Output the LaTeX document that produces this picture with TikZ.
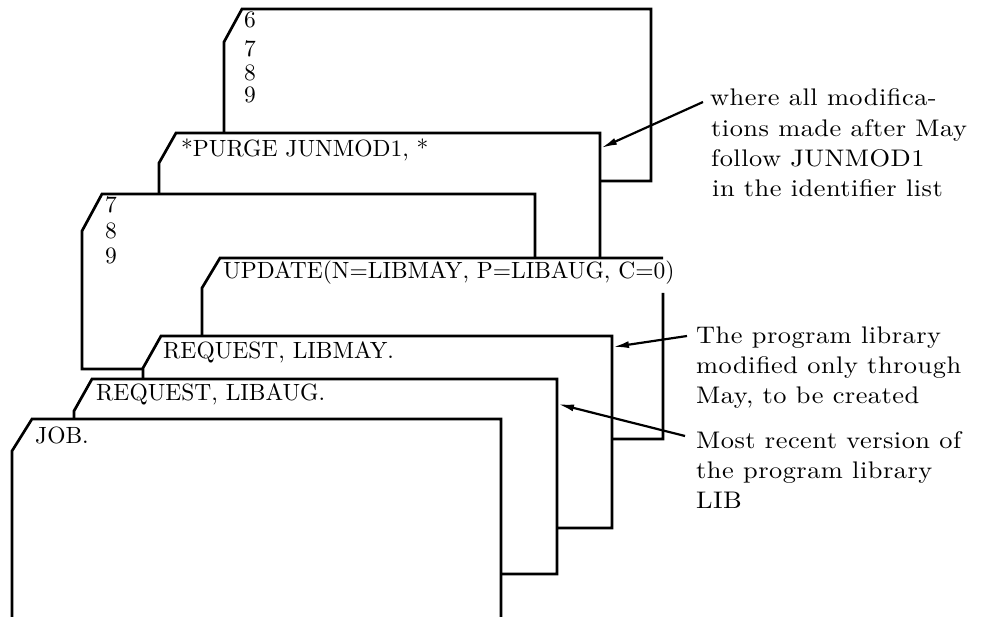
\documentclass[tikz,border=0pt]{standalone}
\usepackage{fontspec}
\usetikzlibrary{arrows.meta}
\newfontfamily\lmcard{lmroman10-regular}[Extension=.otf]
\newfontfamily\lmlab{lmroman10-regular}[Extension=.otf, FakeStretch=1.1, LetterSpace=2]
\newcommand\cardfont{\fontsize{23.5}{25}\lmcard}
\newcommand\labfont{\fontsize{24}{30}\lmlab}
\begin{document}
\begin{tikzpicture}[x=1pt,y=-1pt,
  card/.style={line width=2.7pt, fill=white, line join=miter},
  cardline/.style={line width=2.7pt, line join=miter},
  cardtxt/.style={anchor=base west, inner sep=0pt, font=\cardfont},
  labtxt/.style={anchor=base west, inner sep=0pt, font=\labfont},
  ptr/.style={line width=2.2pt, -{Latex[length=16pt,width=7pt]}}]
\useasboundingbox (0,0) rectangle (987,617);
\clip (0,0) rectangle (987,617);
% card 1 (top)
\filldraw[card] (242,9) -- (651,9) -- (651,181) -- (224,181) -- (224,42) -- cycle;
\node[cardtxt] (d6) at (244,28) {6};
\node[cardtxt] (d7) at (244,57) {7};
\node[cardtxt] (d8) at (244,81) {8};
\node[cardtxt] (d9) at (244,103) {9};
% card 2 PURGE
\filldraw[card] (176,133) -- (600,133) -- (600,300) -- (159,300) -- (159,163) -- cycle;
\node[cardtxt] (purge) at (181,156.5) {*PURGE JUNMOD1, *};
% card 3
\filldraw[card] (102,194) -- (535,194) -- (535,369) -- (82,369) -- (82,231) -- cycle;
\node[cardtxt] (e7) at (105,213) {7};
\node[cardtxt] (e8) at (105,239) {8};
\node[cardtxt] (e9) at (105,264) {9};
% card 4 UPDATE
\fill[white] (220,258) -- (663,258) -- (663,439) -- (202,439) -- (202,288) -- cycle;
\draw[cardline] (663,293) -- (663,439) -- (202,439) -- (202,288) -- (220,258) -- (663,258);
\node[cardtxt] (upd) at (223,278.5) {UPDATE(N=LIBMAY, P=LIBAUG, C=0)};
% card 5 LIBMAY
\filldraw[card] (161,336) -- (612,336) -- (612,528) -- (143,528) -- (143,368) -- cycle;
\node[cardtxt] (reqmay) at (163,358) {REQUEST, LIBMAY.};
% card 6 LIBAUG
\filldraw[card] (92,379) -- (557,379) -- (557,574) -- (74,574) -- (74,411) -- cycle;
\node[cardtxt] (reqaug) at (96,400) {REQUEST, LIBAUG.};
% card 7 JOB
\filldraw[card] (32,419) -- (501,419) -- (501,640) -- (12,640) -- (12,451) -- cycle;
\node[cardtxt] (job) at (35,443) {JOB.};
% labels
\node[labtxt] (l1a) at (710,106) {where all modifica-};
\node[labtxt] (l1b) at (711,137) {tions made after May};
\node[labtxt] (l1c) at (711,167) {follow JUNMOD1};
\node[labtxt] (l1d) at (712,197) {in the identifier list};
\node[labtxt] (l2a) at (696,343) {The program library};
\node[labtxt] (l2b) at (696,373) {modified only through};
\node[labtxt] (l2c) at (696,403) {May, to be created};
\node[labtxt] (l3a) at (696,448) {Most recent version of};
\node[labtxt] (l3b) at (696,478) {the program library};
\node[labtxt] (l3c) at (696,508) {LIB};
% arrows
\coordinate (t1) at (703,102); \coordinate (h1) at (601,148);
\coordinate (t2) at (687,336); \coordinate (h2) at (613,347);
\coordinate (t3) at (685,436); \coordinate (h3) at (558,404);
\draw[ptr] (t1) -- (h1);
\draw[ptr] (t2) -- (h2);
\draw[ptr] (t3) -- (h3);
\end{tikzpicture}
\end{document}
